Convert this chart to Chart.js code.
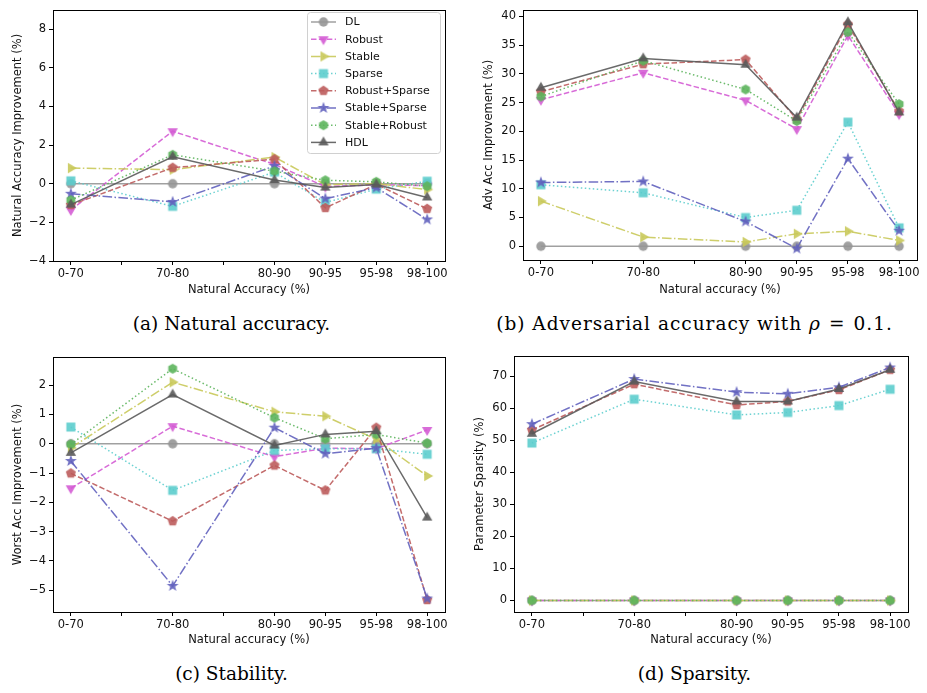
<!DOCTYPE html>
<html>
<head>
<meta charset="utf-8">
<script src="https://cdn.jsdelivr.net/npm/chart.js@4.4.0/dist/chart.umd.min.js"></script>
<style>
  body { margin: 0; background: #fff; width: 927px; height: 693px; position: relative; overflow: hidden; }
  canvas { position: absolute; }
  .cap { position: absolute; width: 463px; text-align: center; font-family: "DejaVu Serif", serif; font-size: 18.5px; color: #000; }
  .cap.wide { letter-spacing: 1px; }
  .cap .eq { margin: 0 8px; }
</style>
</head>
<body>
<canvas id="natChart" width="463" height="300" style="left:0;top:0"></canvas>
<canvas id="advChart" width="464" height="300" style="left:463px;top:0"></canvas>
<canvas id="worstChart" width="463" height="305" style="left:0;top:345px"></canvas>
<canvas id="sparseChart" width="464" height="305" style="left:463px;top:345px"></canvas>
<div class="cap" style="left:0;top:313px">(a) Natural accuracy.</div>
<div class="cap wide" style="left:463px;top:313px">(b) Adversarial accuracy with <i>ρ</i><span class="eq">=</span>0.1.</div>
<div class="cap" style="left:0;top:663px">(c) Stability.</div>
<div class="cap" style="left:463px;top:663px">(d) Sparsity.</div>
<script>
// accuracy buckets, placed on a non-uniform x axis like the original
const categories = ['0-70', '70-80', '80-90', '90-95', '95-98', '98-100'];
const xPos = [0, 2, 4, 5, 6, 7];
const xTicks = [0, 1, 2, 3, 4, 5, 6, 7];

const methods = ['DL', 'Robust', 'Stable', 'Sparse', 'Robust+Sparse', 'Stable+Sparse', 'Stable+Robust', 'HDL'];

// rows follow the order of methods
const naturalAcc = [
    [0, 0, 0, 0, 0, 0],
    [-1.36, 2.72, 1.0, -0.15, -0.05, -0.1],
    [0.81, 0.73, 1.38, -0.05, 0.0, -0.3],
    [0.15, -1.17, 0.6, -0.97, -0.28, 0.13],
    [-1.1, 0.83, 1.27, -1.25, -0.03, -1.3],
    [-0.52, -0.94, 0.92, -0.77, -0.2, -1.85],
    [-0.85, 1.5, 0.65, 0.18, 0.1, -0.13],
    [-1.08, 1.4, 0.19, -0.2, -0.04, -0.71]
];
const advAcc = [
    [0, 0, 0, 0, 0, 0],
    [25.5, 30.2, 25.4, 20.4, 36.7, 23.0],
    [7.85, 1.6, 0.74, 2.16, 2.6, 1.0],
    [10.7, 9.3, 5.0, 6.26, 21.6, 3.2],
    [26.9, 31.7, 32.5, 22.1, 38.6, 23.5],
    [11.1, 11.27, 4.3, -0.4, 15.25, 2.7],
    [26.06, 32.3, 27.3, 21.8, 37.3, 24.75],
    [27.6, 32.7, 31.6, 22.4, 39.0, 23.3]
];
const worstAcc = [
    [0, 0, 0, 0, 0, 0],
    [-1.52, 0.6, -0.44, -0.15, -0.17, 0.47],
    [-0.14, 2.1, 1.09, 0.94, 0.15, -1.1],
    [0.57, -1.59, -0.23, -0.17, -0.17, -0.36],
    [-1.01, -2.64, -0.74, -1.59, 0.55, -5.33],
    [-0.59, -4.85, 0.55, -0.34, -0.15, -5.28],
    [-0.02, 2.56, 0.89, 0.17, 0.32, 0.02],
    [-0.31, 1.68, -0.06, 0.32, 0.43, -2.52]
];
const sparsity = [
    [0, 0, 0, 0, 0, 0],
    [0, 0, 0, 0, 0, 0],
    [0, 0, 0, 0, 0, 0],
    [49.2, 62.9, 58.0, 58.75, 60.9, 66.0],
    [53.3, 67.6, 61.1, 62.2, 65.8, 72.1],
    [55.1, 69.2, 65.1, 64.6, 66.6, 72.8],
    [0, 0, 0, 0, 0, 0],
    [52.1, 68.4, 62.2, 62.2, 66.1, 72.1]
];

const colors = ['rgba(150,150,150,0.9)', 'rgba(212,92,212,0.9)', 'rgba(201,201,90,0.9)', 'rgba(92,205,205,0.9)',
    'rgba(188,92,92,0.9)', 'rgba(98,98,190,0.9)', 'rgba(92,180,92,0.9)', 'rgba(90,90,90,0.9)'];
const shapes = ['circle', 'down', 'right', 'square', 'pentagon', 'star', 'hexagon', 'up'];
const dashes = [[], [5.5, 2.4], [9.6, 2.4, 1.5, 2.4], [1.5, 2.5], [5.5, 2.4], [9.6, 2.4, 1.5, 2.4], [1.5, 2.5], []];

function makeMarker(shape, color) {
    const c = document.createElement('canvas');
    c.width = c.height = 14;
    const g = c.getContext('2d');
    g.fillStyle = color;
    g.beginPath();
    const poly = (n, r, start, inner) => {
        const pts = inner ? n * 2 : n;
        for (let i = 0; i < pts; i++) {
            const rr = inner && i % 2 ? inner : r;
            const a = start + i * 2 * Math.PI / pts;
            const px = 7 + rr * Math.cos(a), py = 7 + rr * Math.sin(a);
            i ? g.lineTo(px, py) : g.moveTo(px, py);
        }
        g.closePath();
    };
    const up = -Math.PI / 2;
    if (shape === 'circle') g.arc(7, 7, 4.7, 0, Math.PI * 2);
    else if (shape === 'square') g.rect(2.5, 2.5, 9, 9);
    else if (shape === 'up') poly(3, 6, up);
    else if (shape === 'down') poly(3, 6, Math.PI / 2);
    else if (shape === 'right') poly(3, 6, 0);
    else if (shape === 'pentagon') poly(5, 5.3, up);
    else if (shape === 'hexagon') poly(6, 5.1, up);
    else if (shape === 'star') poly(5, 6.3, up, 2.6);
    g.fill();
    return c;
}
const markers = shapes.map((s, i) => makeMarker(s, colors[i]));

const fmt = v => String(Math.round(v * 100) / 100).replace('-', '\u2212');

// box around the plot area, like a matplotlib axes frame
const frame = {
    id: 'frame',
    afterDraw(chart) {
        const { ctx, chartArea: a } = chart;
        ctx.save();
        ctx.strokeStyle = '#000';
        ctx.lineWidth = 1;
        ctx.strokeRect(Math.round(a.left) + 0.5, Math.round(a.top) + 0.5, Math.round(a.right - a.left), Math.round(a.bottom - a.top));
        ctx.restore();
    }
};

// line + marker legend drawn inside the first panel
const legendBox = {
    id: 'legendBox',
    afterDraw(chart) {
        if (chart.canvas.id !== 'natChart') return;
        const ctx = chart.ctx;
        ctx.save();
        ctx.beginPath();
        ctx.roundRect(307.5, 12.5, 133, 141, 3);
        ctx.fillStyle = 'rgba(255,255,255,0.85)';
        ctx.fill();
        ctx.strokeStyle = '#d0d0d0';
        ctx.lineWidth = 1;
        ctx.stroke();
        ctx.font = '11px "DejaVu Sans"';
        ctx.textBaseline = 'middle';
        chart.data.datasets.forEach((ds, i) => {
            const y = 22 + i * 17.2;
            ctx.beginPath();
            ctx.setLineDash(ds.borderDash);
            ctx.strokeStyle = ds.borderColor;
            ctx.lineWidth = ds.borderWidth;
            ctx.moveTo(311, y);
            ctx.lineTo(336, y);
            ctx.stroke();
            ctx.setLineDash([]);
            ctx.drawImage(ds.pointStyle, 323.5 - 7, y - 7);
            ctx.fillStyle = '#111';
            ctx.fillText(ds.label, 345, y + 0.5);
        });
        ctx.restore();
    }
};

function makeChart(id, rows, o) {
    const datasets = rows.map((vals, i) => ({
        label: methods[i],
        data: vals.map((v, j) => ({ x: xPos[j], y: v })),
        borderColor: colors[i],
        backgroundColor: colors[i],
        borderWidth: 1.5,
        borderDash: dashes[i],
        pointStyle: markers[i],
        pointRadius: 5,
        tension: 0,
        order: methods.length - i
    }));
    const tickFont = { family: 'DejaVu Sans', size: 11.5 };
    new Chart(document.getElementById(id), {
        type: 'line',
        data: { datasets },
        options: {
            responsive: false,
            animation: false,
            events: [],
            layout: { autoPadding: false, padding: o.padding },
            plugins: { legend: { display: false }, tooltip: { enabled: false } },
            scales: {
                x: {
                    type: 'linear',
                    min: -0.35,
                    max: 7.35,
                    afterBuildTicks: s => { s.ticks = xTicks.map(v => ({ value: v })); },
                    afterFit: s => { s.height = o.xHeight; },
                    ticks: {
                        autoSkip: false,
                        maxRotation: 0,
                        padding: 2,
                        color: '#111',
                        font: tickFont,
                        callback: v => { const k = xPos.indexOf(v); return k < 0 ? '' : categories[k]; }
                    },
                    grid: { drawOnChartArea: false, drawTicks: true, tickLength: 4, color: '#000' },
                    border: { display: false },
                    title: { display: true, text: o.xTitle, color: '#111', font: tickFont, padding: { top: 0, bottom: 3 } }
                },
                y: {
                    min: o.yMin,
                    max: o.yMax,
                    afterBuildTicks: s => { s.ticks = o.yTicks.map(v => ({ value: v })); },
                    afterFit: s => { s.width = o.yWidth; },
                    ticks: { padding: 3, color: '#111', font: tickFont, callback: fmt },
                    grid: { drawOnChartArea: false, drawTicks: true, tickLength: 4, color: '#000' },
                    border: { display: false },
                    title: { display: true, text: o.yTitle, color: '#111', font: tickFont, padding: { top: o.yTitlePad, bottom: 0 } }
                }
            }
        },
        plugins: [frame, legendBox]
    });
}

makeChart('natChart', naturalAcc, {
    padding: { left: 0, top: 6, right: 18, bottom: 0 }, xHeight: 39, yWidth: 53, yTitlePad: 11,
    yMin: -4, yMax: 9, yTicks: [-4, -2, 0, 2, 4, 6, 8],
    xTitle: 'Natural Accuracy (%)', yTitle: 'Natural Accuracy Improvement (%)'
});
makeChart('advChart', advAcc, {
    padding: { left: 0, top: 5, right: 10, bottom: 0 }, xHeight: 40, yWidth: 60, yTitlePad: 19,
    yMin: -2.4, yMax: 41.15, yTicks: [0, 5, 10, 15, 20, 25, 30, 35, 40],
    xTitle: 'Natural accuracy (%)', yTitle: 'Adv Acc Improvement (%)'
});
makeChart('worstChart', worstAcc, {
    padding: { left: 0, top: 12, right: 18, bottom: 0 }, xHeight: 38, yWidth: 53, yTitlePad: 11,
    yMin: -5.74, yMax: 2.96, yTicks: [-5, -4, -3, -2, -1, 0, 1, 2],
    xTitle: 'Natural accuracy (%)', yTitle: 'Worst Acc Improvement (%)'
});
makeChart('sparseChart', sparsity, {
    padding: { left: 0, top: 11, right: 19, bottom: 0 }, xHeight: 38, yWidth: 51, yTitlePad: 10,
    yMin: -3.6, yMax: 76.4, yTicks: [0, 10, 20, 30, 40, 50, 60, 70],
    xTitle: 'Natural accuracy (%)', yTitle: 'Parameter Sparsity (%)'
});
</script>
</body>
</html>
